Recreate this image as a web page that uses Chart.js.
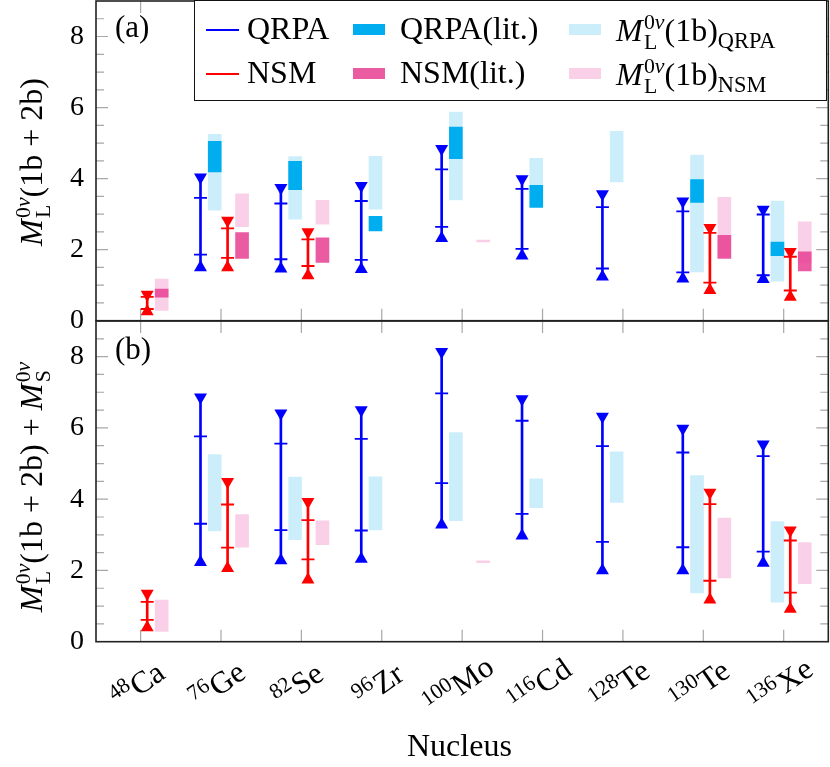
<!DOCTYPE html>
<html>
<head>
<meta charset="utf-8">
<script src="https://cdn.jsdelivr.net/npm/chart.js@4.4.1/dist/chart.umd.min.js"></script>
<style>
  body { margin: 0; width: 830px; height: 767px; position: relative; overflow: hidden; background: #fff;
         font-family: "Liberation Serif", serif; color: #000; }
  canvas { position: absolute; left: 0; }
  #chartA { top: 0; }
  #chartB { top: 300px; }
  .txt { position: absolute; white-space: nowrap; line-height: 1; }
  .ss { display: inline-flex; flex-direction: column; font-size: 0.68em; line-height: 0.92;
        vertical-align: 0.55em; margin-left: 0.06em; font-style: normal; }
  .lsub { font-size: 0.7em; vertical-align: -0.3em; }
  .iso { font-size: 0.7em; vertical-align: 0.5em; margin-right: 0.04em; }
  .ytitle { position: absolute; white-space: nowrap; line-height: 1; font-size: 32px;
            transform: translate(-50%, -50%) rotate(-90deg); }
  .xt { position: absolute; white-space: nowrap; line-height: 1; font-size: 31px;
        transform: translate(-50%, -50%) rotate(-35deg); }
  #legend { position: absolute; left: 194px; top: 0; width: 633px; height: 101px; box-sizing: border-box;
            border: 1.5px solid #111; background: #fff; }
</style>
</head>
<body>
<canvas id="chartA" width="830" height="340"></canvas>
<canvas id="chartB" width="830" height="467"></canvas>
<div id="legend"></div>
<script>
const massNumbers = ['48', '76', '82', '96', '100', '116', '128', '130', '136'];
const elements = ['Ca', 'Ge', 'Se', 'Zr', 'Mo', 'Cd', 'Te', 'Te', 'Xe'];

// (a) M_L(1b+2b): triangle ends (min / max) and bar marks (lo / hi)
const qrpaAMin = [null, 1.50, 1.46, 1.45, 2.32, 1.83, 1.24, 1.18, 1.17];
const qrpaALo  = [null, 1.86, 1.73, 1.71, 2.64, 2.02, 1.47, 1.36, 1.28];
const qrpaAHi  = [null, 3.46, 3.30, 3.37, 4.26, 3.71, 3.20, 3.08, 2.99];
const qrpaAMax = [null, 4.04, 3.74, 3.80, 4.84, 3.99, 3.57, 3.36, 3.13];
const nsmAMin = [0.26, 1.50, 1.27, null, null, null, null, 0.86, 0.67];
const nsmALo  = [0.33, 1.77, 1.54, null, null, null, null, 1.07, 0.85];
const nsmAHi  = [0.67, 2.60, 2.29, null, null, null, null, 2.47, 1.80];
const nsmAMax = [0.74, 2.82, 2.50, null, null, null, null, 2.62, 1.94];

// (b) M_L(1b+2b) + M_S
const qrpaBMin = [null, 2.23, 2.28, 2.32, 3.28, 2.97, 2.00, 2.00, 2.21];
const qrpaBLo  = [null, 3.31, 3.13, 3.12, 4.45, 3.59, 2.80, 2.65, 2.53];
const qrpaBHi  = [null, 5.76, 5.56, 5.69, 6.97, 6.20, 5.49, 5.31, 5.21];
const qrpaBMax = [null, 6.86, 6.41, 6.50, 8.14, 6.81, 6.32, 5.98, 5.54];
const nsmBMin = [0.40, 2.06, 1.74, null, null, null, null, 1.18, 0.92];
const nsmBLo  = [0.61, 2.64, 2.31, null, null, null, null, 1.71, 1.38];
const nsmBHi  = [1.12, 3.85, 3.41, null, null, null, null, 3.86, 2.84];
const nsmBMax = [1.35, 4.49, 3.93, null, null, null, null, 4.19, 3.13];

// literature ranges, panel (a)
const qrpaLitLo = [null, 4.19, 3.69, 2.53, 4.56, 3.19, null, 3.33, 1.83];
const qrpaLitHi = [null, 5.05, 4.49, 2.94, 5.45, 3.81, null, 3.97, 2.21];
const nsmLitLo  = [0.66, 1.75, 1.64, null, null, null, null, 1.75, 1.40];
const nsmLitHi  = [0.89, 2.48, 2.33, null, null, null, null, 2.40, 1.94];

// M_L(1b) ranges, both panels
const qrpa1bLo = [null, 3.11, 2.86, 3.14, 3.40, 3.76, 3.91, 1.37, 1.11];
const qrpa1bHi = [null, 5.25, 4.62, 4.63, 5.87, 4.57, 5.33, 4.66, 3.37];
const nsm1bLo  = [0.29, 2.65, 2.72, null, 2.22, null, null, 1.79, 1.63];
const nsm1bHi  = [1.17, 3.57, 3.39, null, 2.27, null, null, 3.47, 2.78];

const colQrpa = '#0000ff';
const colNsm = '#ff0000';
const colQrpaLit = '#00aeef';
const colNsmLit = 'rgba(232, 62, 146, 0.85)';
const colQrpa1b = '#cceefb';
const colNsm1b = '#fad0e8';

// horizontal offsets inside one nucleus slot
const dxQrpa = -0.255, dxQrpaBox = -0.078, dxNsm = 0.082, dxNsmBox = 0.262;

function points(vals, dx) {
    return vals.map((v, i) => v === null ? null : { x: i + dx, y: v }).filter(p => p);
}

function ranges(lo, hi, dx) {
    return lo.map((v, i) => v === null ? null : { x: i + dx, y: [v, hi[i]] }).filter(p => p);
}

function boxSet(lo, hi, dx, color, order) {
    return { type: 'bar', data: ranges(lo, hi, dx), backgroundColor: color, borderWidth: 0,
             barThickness: 13, grouped: false, order: order };
}

function stemSet(lo, hi, dx, color) {
    return { type: 'bar', data: ranges(lo, hi, dx), backgroundColor: color, borderWidth: 0,
             barThickness: 2, grouped: false, order: 4 };
}

function markSet(vals, dx, color) {
    return { type: 'scatter', data: points(vals, dx), pointStyle: 'line', pointRadius: 6.5,
             pointBorderWidth: 1.8, pointBorderColor: color, order: 3 };
}

function triSet(vals, dx, color, rot) {
    return { type: 'scatter', data: points(vals, dx), pointStyle: 'triangle', pointRadius: 7.5,
             pointRotation: rot, pointBackgroundColor: color, pointBorderWidth: 0, order: 2 };
}

// inward ticks on all four sides, then the frame
const framePlugin = {
    id: 'frame',
    beforeDatasetsDraw(chart) {
        const { ctx, chartArea: a, scales: { x, y } } = chart;
        ctx.save();
        ctx.strokeStyle = '#a8a8a8';
        ctx.lineWidth = 1.2;
        ctx.beginPath();
        for (let k = 1; k < 18; k++) {
            const py = y.getPixelForValue(k / 2);
            const len = k % 4 === 0 ? 12 : 8;
            ctx.moveTo(a.left, py); ctx.lineTo(a.left + len, py);
            ctx.moveTo(a.right, py); ctx.lineTo(a.right - len, py);
        }
        massNumbers.forEach((m, i) => {
            const px = x.getPixelForValue(i);
            ctx.moveTo(px, a.bottom); ctx.lineTo(px, a.bottom - 12);
            ctx.moveTo(px, a.top); ctx.lineTo(px, a.top + 12);
        });
        ctx.stroke();
        ctx.restore();
    },
    afterDatasetsDraw(chart) {
        const { ctx, chartArea: a } = chart;
        ctx.save();
        ctx.strokeStyle = '#222';
        ctx.lineWidth = 1.6;
        ctx.strokeRect(a.left, a.top, a.right - a.left, a.bottom - a.top);
        ctx.restore();
    }
};

function makePanel(id, padding, q, n, withLit) {
    const datasets = [
        boxSet(qrpa1bLo, qrpa1bHi, dxQrpaBox, colQrpa1b, 6),
        boxSet(nsm1bLo, nsm1bHi, dxNsmBox, colNsm1b, 6)
    ];
    if (withLit) {
        datasets.push(boxSet(qrpaLitLo, qrpaLitHi, dxQrpaBox, colQrpaLit, 5));
        datasets.push(boxSet(nsmLitLo, nsmLitHi, dxNsmBox, colNsmLit, 5));
    }
    datasets.push(
        stemSet(q[0], q[3], dxQrpa, colQrpa),
        stemSet(n[0], n[3], dxNsm, colNsm),
        markSet(q[1], dxQrpa, colQrpa), markSet(q[2], dxQrpa, colQrpa),
        markSet(n[1], dxNsm, colNsm), markSet(n[2], dxNsm, colNsm),
        triSet(q[0], dxQrpa, colQrpa, 0), triSet(q[3], dxQrpa, colQrpa, 180),
        triSet(n[0], dxNsm, colNsm, 0), triSet(n[3], dxNsm, colNsm, 180)
    );
    return new Chart(document.getElementById(id), {
        type: 'bar',
        data: { datasets: datasets },
        options: {
            responsive: false,
            animation: false,
            events: [],
            layout: { padding: padding, autoPadding: false },
            plugins: { legend: { display: false }, tooltip: { enabled: false } },
            scales: {
                x: { type: 'linear', min: -0.555, max: 8.555, offset: false, display: false },
                y: {
                    min: 0, max: 9,
                    afterFit: (s) => { s.width = 96; s.paddingTop = 0; s.paddingBottom = 0; },
                    grid: { display: false, drawTicks: false },
                    border: { display: false },
                    ticks: {
                        stepSize: 2, includeBounds: false, padding: 12, color: '#000',
                        font: { family: 'Liberation Serif', size: 28 },
                        callback: (v) => v % 2 === 0 ? v : ''
                    }
                }
            }
        },
        plugins: [framePlugin]
    });
}

const chartA = makePanel('chartA', { top: 1, right: 1.7, bottom: 19.3, left: 0 },
    [qrpaAMin, qrpaALo, qrpaAHi, qrpaAMax], [nsmAMin, nsmALo, nsmAHi, nsmAMax], true);
const chartB = makePanel('chartB', { top: 21, right: 1.7, bottom: 125.3, left: 0 },
    [qrpaBMin, qrpaBLo, qrpaBHi, qrpaBMax], [nsmBMin, nsmBLo, nsmBHi, nsmBMax], false);

function mathM(sub) {
    return '<i>M</i><span class="ss"><span>0<i>ν</i></span><span>' + sub + '</span></span>';
}

function addText(cls, html, left, top, size) {
    const el = document.createElement('div');
    el.className = cls;
    el.innerHTML = html;
    el.style.left = left + 'px';
    el.style.top = top + 'px';
    if (size) el.style.fontSize = size + 'px';
    document.body.appendChild(el);
    return el;
}

// axis titles and panel tags
addText('ytitle', mathM('L') + '(1b + 2b)', 33, 162);
addText('ytitle', mathM('L') + '(1b + 2b) + ' + mathM('S'), 33, 487);
addText('txt', '(a)', 115, 11.3, 31);
addText('txt', '(b)', 115, 333.3, 31);
addText('txt', 'Nucleus', 407, 729, 32);

// rotated nucleus labels under panel (b)
const xs = chartB.scales.x;
massNumbers.forEach((m, i) => {
    addText('xt', '<span class="iso">' + m + '</span>' + elements[i], xs.getPixelForValue(i) - 4, 684);
});

// legend (3 columns x 2 rows)
const legendItems = [
    { kind: 'line', color: colQrpa, html: 'QRPA', col: 0, row: 0 },
    { kind: 'box', color: colQrpaLit, html: 'QRPA(lit.)', col: 1, row: 0 },
    { kind: 'box', color: colQrpa1b, html: mathM('L') + '(1b)<span class="lsub">QRPA</span>', col: 2, row: 0 },
    { kind: 'line', color: colNsm, html: 'NSM', col: 0, row: 1 },
    { kind: 'box', color: colNsmLit, html: 'NSM(lit.)', col: 1, row: 1 },
    { kind: 'box', color: colNsm1b, html: mathM('L') + '(1b)<span class="lsub">NSM</span>', col: 2, row: 1 }
];
const colSample = [206, 353, 569];
const colText = [247, 400, 616];
const rowMid = [29.5, 73.5];
legendItems.forEach((it) => {
    const s = document.createElement('div');
    s.style.position = 'absolute';
    s.style.left = colSample[it.col] + 'px';
    s.style.width = (it.kind === 'line' ? 33 : 32) + 'px';
    const h = it.kind === 'line' ? 2 : 11;
    s.style.height = h + 'px';
    s.style.top = (rowMid[it.row] - h / 2) + 'px';
    s.style.background = it.color;
    document.body.appendChild(s);
    addText('txt', it.html, colText[it.col], rowMid[it.row] - 18, 32);
});
</script>
</body>
</html>
